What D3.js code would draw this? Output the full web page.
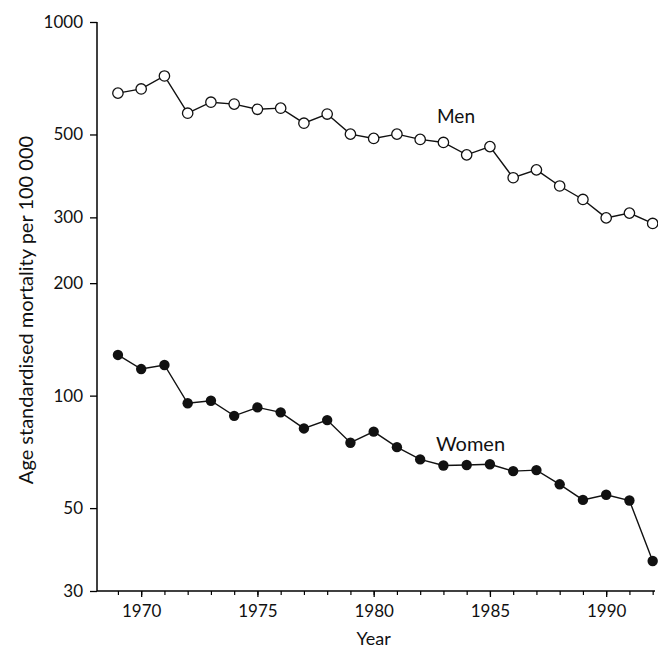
<!DOCTYPE html>
<html>
<head>
<meta charset="utf-8">
<script src="https://cdnjs.cloudflare.com/ajax/libs/d3/7.8.5/d3.min.js"></script>
<style>
  body { margin: 0; background: #fff; }
  text { font-family: Lato, "Open Sans", sans-serif; fill: #111; }
</style>
</head>
<body>
<svg id="chart" width="658" height="652"></svg>
<script>
// Data
var years = [1969, 1970, 1971, 1972, 1973, 1974, 1975, 1976, 1977, 1978, 1979, 1980,
             1981, 1982, 1983, 1984, 1985, 1986, 1987, 1988, 1989, 1990, 1991, 1992];

var men = [645, 662, 717, 570, 610, 603, 584, 588, 536, 567, 501, 488,
           501, 485, 476, 441, 464, 383, 402, 364, 335, 299, 308, 289];

var women = [128.5, 117.8, 120.8, 95.4, 96.9, 88.3, 93.0, 90.2, 81.7, 86.0, 74.8, 80.1,
             72.8, 67.5, 65.0, 65.2, 65.5, 62.8, 63.2, 57.9, 52.6, 54.3, 52.4, 36.1];

var yTicks = [30, 50, 100, 200, 300, 500, 1000];
var xTicks = [1970, 1975, 1980, 1985, 1990];

var svg = d3.select("#chart");

var x = d3.scaleLinear()
    .domain([1968.1, 1992.1])
    .range([97, 655]);

var y = d3.scaleLog()
    .domain([30, 1000])
    .range([591, 22]);

// y axis
var yAxis = d3.axisLeft(y)
    .tickValues(yTicks)
    .tickFormat(d3.format("d"))
    .tickSize(7)
    .tickPadding(7);

var gy = svg.append("g")
    .attr("transform", "translate(97,0)")
    .call(yAxis);
gy.select(".domain").attr("d", "M0," + y(1000) + "V" + y(30)).attr("stroke-width", 1.5);
gy.selectAll(".tick line").attr("stroke-width", 1.3);
gy.selectAll("text").style("font-size", "17px").attr("font-family", null);

// x axis: minor ticks every year, labels every 5
var minor = d3.range(1969, 1993);
var xAxisMinor = d3.axisBottom(x)
    .tickValues(minor)
    .tickFormat("")
    .tickSize(4);

var gxm = svg.append("g")
    .attr("transform", "translate(0," + y(30) + ")")
    .call(xAxisMinor);
gxm.select(".domain").attr("d", "M" + x.range()[0] + ",0H" + x.range()[1]).attr("stroke-width", 1.5);
gxm.selectAll(".tick line").attr("stroke-width", 1.2);

var xAxis = d3.axisBottom(x)
    .tickValues(xTicks)
    .tickFormat(d3.format("d"))
    .tickSize(6)
    .tickPadding(8);

var gx = svg.append("g")
    .attr("transform", "translate(0," + y(30) + ")")
    .call(xAxis);
gx.select(".domain").remove();
gx.selectAll(".tick line").attr("stroke-width", 1.3);
gx.selectAll("text").style("font-size", "17px").attr("font-family", null);

// axis titles
svg.append("text")
    .attr("x", x(1980.0))
    .attr("y", 645)
    .attr("text-anchor", "middle")
    .style("font-size", "18px")
    .text("Year");

svg.append("text")
    .attr("transform", "translate(33," + 310 + ") rotate(-90)")
    .attr("text-anchor", "middle")
    .style("font-size", "20px")
    .text("Age standardised mortality per 100 000");

// series
var line = d3.line()
    .x(function(d, i) { return x(years[i]); })
    .y(function(d) { return y(d); });

svg.append("path")
    .datum(men)
    .attr("fill", "none")
    .attr("stroke", "#111")
    .attr("stroke-width", 1.4)
    .attr("d", line);

svg.append("path")
    .datum(women)
    .attr("fill", "none")
    .attr("stroke", "#111")
    .attr("stroke-width", 1.4)
    .attr("d", line);

svg.selectAll("circle.men")
    .data(men)
    .enter()
  .append("circle")
    .attr("class", "men")
    .attr("cx", function(d, i) { return x(years[i]); })
    .attr("cy", function(d) { return y(d); })
    .attr("r", 5.2)
    .attr("fill", "#fff")
    .attr("stroke", "#111")
    .attr("stroke-width", 1.3);

svg.selectAll("circle.women")
    .data(women)
    .enter()
  .append("circle")
    .attr("class", "women")
    .attr("cx", function(d, i) { return x(years[i]); })
    .attr("cy", function(d) { return y(d); })
    .attr("r", 5.2)
    .attr("fill", "#111");

// series labels
svg.append("text")
    .attr("x", 437)
    .attr("y", 123)
    .style("font-size", "19px")
    .text("Men");

svg.append("text")
    .attr("x", 436)
    .attr("y", 451)
    .style("font-size", "20px")
    .text("Women");
</script>
</body>
</html>
